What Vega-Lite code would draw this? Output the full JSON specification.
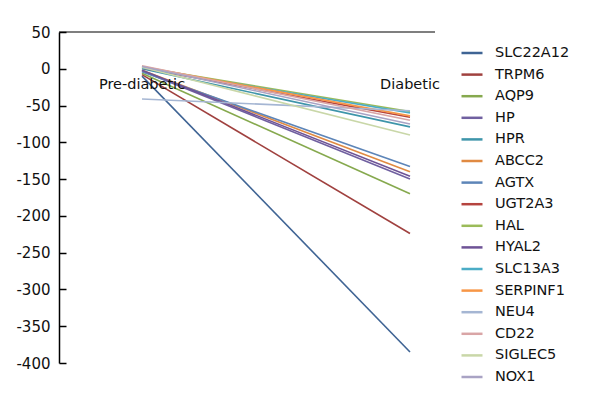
{
  "$schema": "https://vega.github.io/schema/vega-lite/v6.json",
  "width": 376,
  "height": 331,
  "autosize": "none",
  "padding": {"left": 59, "top": 32, "right": 165, "bottom": 39},
  "background": "white",
  "config": {
    "view": {"stroke": null},
    "font": "DejaVu Sans",
    "axisY": {"title": null, "values": [50, 0, -50, -100, -150, -200, -250, -300, -350, -400],
              "labelExpr": "'' + datum.value", "labelOverlap": false,
              "grid": false, "domainColor": "#000000", "domainWidth": 1.5,
              "tickColor": "#000000", "tickSize": -7, "tickWidth": 1.5,
              "labelFontSize": 15, "labelColor": "#111111", "labelPadding": 16, "labelFont": "DejaVu Sans"}
  },
  "layer": [
    {
      "data": {"values": [{"value": 50}]},
      "mark": {"type": "rule", "color": "#000000", "strokeWidth": 1.2},
      "encoding": {"y": {"field": "value", "type": "quantitative", "title": null, "scale": {"domain": [-400, 50], "nice": false, "zero": false}}}
    },
    {
      "data": {
        "values": [
          {"gene": "SLC22A12", "stage": "Pre-diabetic", "value": -10},
          {"gene": "SLC22A12", "stage": "Diabetic", "value": -385},
          {"gene": "TRPM6", "stage": "Pre-diabetic", "value": -8},
          {"gene": "TRPM6", "stage": "Diabetic", "value": -224},
          {"gene": "AQP9", "stage": "Pre-diabetic", "value": -6},
          {"gene": "AQP9", "stage": "Diabetic", "value": -170},
          {"gene": "HP", "stage": "Pre-diabetic", "value": -3},
          {"gene": "HP", "stage": "Diabetic", "value": -150},
          {"gene": "HPR", "stage": "Pre-diabetic", "value": 0},
          {"gene": "HPR", "stage": "Diabetic", "value": -79},
          {"gene": "ABCC2", "stage": "Pre-diabetic", "value": -2},
          {"gene": "ABCC2", "stage": "Diabetic", "value": -140},
          {"gene": "AGTX", "stage": "Pre-diabetic", "value": -4},
          {"gene": "AGTX", "stage": "Diabetic", "value": -133},
          {"gene": "UGT2A3", "stage": "Pre-diabetic", "value": 1},
          {"gene": "UGT2A3", "stage": "Diabetic", "value": -66},
          {"gene": "HAL", "stage": "Pre-diabetic", "value": 2},
          {"gene": "HAL", "stage": "Diabetic", "value": -58},
          {"gene": "HYAL2", "stage": "Pre-diabetic", "value": -2},
          {"gene": "HYAL2", "stage": "Diabetic", "value": -146},
          {"gene": "SLC13A3", "stage": "Pre-diabetic", "value": 1},
          {"gene": "SLC13A3", "stage": "Diabetic", "value": -60},
          {"gene": "SERPINF1", "stage": "Pre-diabetic", "value": 3},
          {"gene": "SERPINF1", "stage": "Diabetic", "value": -64},
          {"gene": "NEU4", "stage": "Pre-diabetic", "value": -41},
          {"gene": "NEU4", "stage": "Diabetic", "value": -57},
          {"gene": "CD22", "stage": "Pre-diabetic", "value": 4},
          {"gene": "CD22", "stage": "Diabetic", "value": -70},
          {"gene": "SIGLEC5", "stage": "Pre-diabetic", "value": 2},
          {"gene": "SIGLEC5", "stage": "Diabetic", "value": -90},
          {"gene": "NOX1", "stage": "Pre-diabetic", "value": 3},
          {"gene": "NOX1", "stage": "Diabetic", "value": -75}
        ]
      },
      "mark": {"type": "line", "strokeWidth": 1.6},
      "encoding": {
        "x": {"field": "stage", "type": "nominal", "sort": ["Pre-diabetic", "Diabetic"],
              "scale": {"type": "point", "domain": ["Pre-diabetic", "Diabetic"], "range": [83, 351], "padding": 0}, "axis": null},
        "y": {"field": "value", "type": "quantitative", "title": null},
        "color": {"field": "gene", "type": "nominal",
                  "scale": {
                    "domain": ["SLC22A12", "TRPM6", "AQP9", "HP", "HPR", "ABCC2", "AGTX", "UGT2A3", "HAL", "HYAL2", "SLC13A3", "SERPINF1", "NEU4", "CD22", "SIGLEC5", "NOX1"],
                    "range": ["#3F6494", "#A0413F", "#86A94E", "#7060A0", "#3E95AA", "#E08A42", "#5D85B8", "#B5443F", "#9BBB59", "#6E5396", "#4BACC6", "#F79646", "#A5B6D3", "#D9A5A6", "#C9D7A8", "#A9A3C4"]
                  },
                  "legend": {"title": null, "orient": "none", "legendX": 401, "legendY": 9, "padding": 0,
                             "symbolType": "stroke", "symbolSize": 441, "symbolStrokeWidth": 2.5,
                             "labelFontSize": 14.5, "labelFont": "DejaVu Sans", "labelColor": "#111111",
                             "labelOffset": 11, "rowPadding": 2.6, "symbolLimit": 0}}
      }
    },
    {
      "data": {"values": [{"stage": "Pre-diabetic", "value": 0}, {"stage": "Diabetic", "value": 0}]},
      "mark": {"type": "text", "fontSize": 14.5, "font": "DejaVu Sans", "color": "#111111", "dy": 16, "align": "center"},
      "encoding": {
        "x": {"field": "stage", "type": "nominal", "sort": ["Pre-diabetic", "Diabetic"], "axis": null},
        "y": {"field": "value", "type": "quantitative", "title": null},
        "text": {"field": "stage"}
      }
    }
  ]
}
